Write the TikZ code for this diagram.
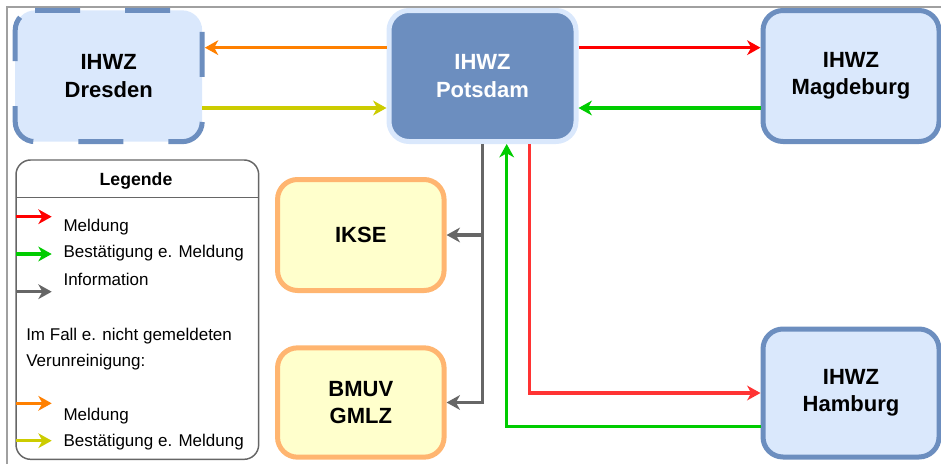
\documentclass[tikz,border=0pt]{standalone}
\usepackage{fontspec}
\setmainfont{Liberation Sans}
\usetikzlibrary{arrows.meta,positioning,calc}
\definecolor{blfill}{HTML}{DAE8FC}
\definecolor{blline}{HTML}{6C8EBF}
\definecolor{ywfill}{HTML}{FFFFCC}
\definecolor{orline}{HTML}{FFB570}
\definecolor{cred}{HTML}{FF0000}
\definecolor{credl}{HTML}{FF3333}
\definecolor{cgreen}{HTML}{00CC00}
\definecolor{cgray}{HTML}{666666}
\definecolor{corange}{HTML}{FF8000}
\definecolor{cyellow}{HTML}{CCCC00}
\definecolor{cframe}{HTML}{A0A0A0}
\tikzset{
  box/.style   = {draw=blline, fill=blfill, line width=3.75pt, rounded corners=15pt,
                  align=center, font=\fontsize{16.5}{20.5}\selectfont\bfseries,
                  minimum width=132pt, minimum height=98.25pt},
  boxd/.style  = {fill=blfill, rounded corners=15pt, outer sep=0pt, align=center,
                  font=\fontsize{16.5}{20.5}\selectfont\bfseries,
                  minimum width=140.25pt, minimum height=98.5pt},
  boxp/.style  = {box, draw=blfill, fill=blline, text=white, minimum width=140.25pt},
  boxy/.style  = {box, draw=orline, fill=ywfill, minimum width=124.9pt},
  dline/.style = {draw=blline, line width=3.75pt, rounded corners=15pt,
                  dash pattern=on 33.75pt off 33.75pt},
  legbox/.style= {draw=cgray, fill=white, line width=1.1pt, rounded corners=11pt,
                  outer sep=0pt, minimum width=182pt, minimum height=224.5pt},
  lab/.style   = {font=\fontsize{12.75}{15}\selectfont, anchor=base west, inner sep=0pt},
  arr/.style   = {-{Stealth[length=10pt, width=11pt, inset=3pt]}, line width=2.6pt},
}
\begin{document}
\begin{tikzpicture}[x=0.75pt, y=-0.75pt]
  \useasboundingbox (0,0) rectangle (941,464);
  \draw[cframe, line width=1.5pt] (7.3,464) -- (7.3,7.3) -- (941,7.3);

  \node[boxd] (dre) at (108.7,76) {IHWZ\\Dresden};
  \draw[dline] ([xshift=15pt]dre.north west) -- (dre.north east) -- (dre.south east)
    -- (dre.south west) -- (dre.north west) -- ([xshift=15pt]dre.north west);
  \node[boxp] (pot) at (482.5,76) {IHWZ\\Potsdam};
  \node[box] (mag) at (851,76) {IHWZ\\Magdeburg};
  \node[box, minimum height=96pt] (ham) at (851,393) {IHWZ\\Hamburg};
  \node[boxy, minimum height=83.25pt] (ikse) at (360.8,235) {IKSE};
  \node[boxy, minimum height=82pt] (bmuv) at (360.8,402.5) {BMUV\\GMLZ};

  \draw[arr, corange] ([yshift=21.25pt]pot.west) -- ([xshift=2pt, yshift=21.25pt]dre.east);
  \draw[arr, cyellow] ([yshift=-24pt]dre.east) -- ([yshift=-24pt]pot.west);
  \draw[arr, cred] ([yshift=21.25pt]pot.east) -- ([yshift=21.25pt]mag.west);
  \draw[arr, cgreen] ([yshift=-24pt]mag.west) -- ([yshift=-24pt]pot.east);
  \draw[arr, cgray] (pot.south) |- (bmuv.east);
  \draw[arr, cgray] (pot.south |- ikse.east) -- (ikse.east);
  \draw[arr, credl] ([xshift=35.1pt]pot.south) |- (ham.west);
  \draw[arr, cgreen] ([yshift=-25.3pt]ham.west) -| ([xshift=18.15pt]pot.south);

  \node[legbox] (leg) at (137.35,309.65) {};
  \draw[cgray, line width=1.1pt] ([yshift=-28.3pt]leg.north west) -- ([yshift=-28.3pt]leg.north east);
  \node[font=\fontsize{13.25}{16}\selectfont\bfseries] (legt) at (136,180.5) {Legende};
  \node[lab] (l1) at (63.3,231.7) {Meldung};
  \node[lab] (l2) at (63.3,257.3) {Bestätigung e. Meldung};
  \node[lab] (l3) at (63.3,285) {Information};
  \node[lab] (l4) at (26,340) {Im Fall e. nicht gemeldeten};
  \node[lab] (l5) at (26,366) {Verunreinigung:};
  \node[lab] (l6) at (63.3,420.7) {Meldung};
  \node[lab] (l7) at (63.3,446) {Bestätigung e. Meldung};
  \draw[arr, cred] (leg.west |- 0,216.7) -- ++(35.7,0);
  \draw[arr, cgreen] (leg.west |- 0,254) -- ++(35.7,0);
  \draw[arr, cgray] (leg.west |- 0,291.7) -- ++(35.7,0);
  \draw[arr, corange] (leg.west |- 0,403.3) -- ++(35.7,0);
  \draw[arr, cyellow] (leg.west |- 0,440.7) -- ++(35.7,0);
\end{tikzpicture}
\end{document}
